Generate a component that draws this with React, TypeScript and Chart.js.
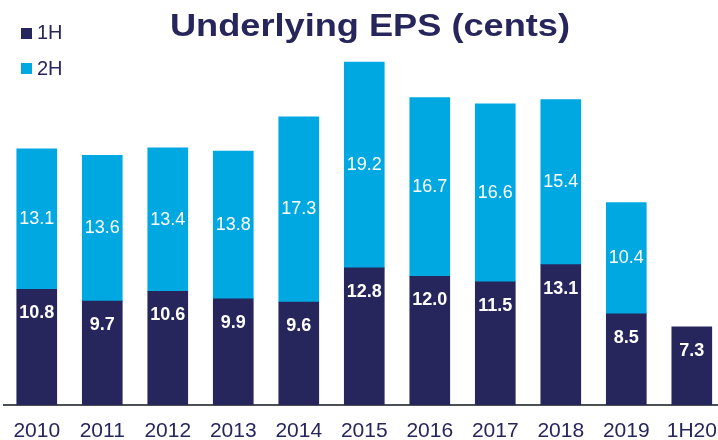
import React, { useEffect, useRef } from "react";
import { Chart, registerables } from "chart.js";

Chart.register(...registerables);

const categories = ["2010", "2011", "2012", "2013", "2014", "2015", "2016", "2017", "2018", "2019", "1H20"];
const firstHalf = [10.8, 9.7, 10.6, 9.9, 9.6, 12.8, 12.0, 11.5, 13.1, 8.5, 7.3];
const secondHalf: (number | null)[] = [13.1, 13.6, 13.4, 13.8, 17.3, 19.2, 16.7, 16.6, 15.4, 10.4, null];
const seriesNames = ["1H", "2H"];
const chartTitle = "Underlying EPS (cents)";

const NAVY = "#27265c";
const BLUE = "#00a8e1";
const FONT = "'Liberation Sans', Arial, sans-serif";

const overlayPlugin = {
  id: "overlay",
  afterDatasetsDraw(chart: any) {
    const ctx = chart.ctx;
    ctx.save();
    ctx.fillStyle = "#ffffff";
    ctx.textAlign = "center";
    ctx.textBaseline = "middle";
    chart.data.datasets.forEach((ds: any, di: number) => {
      const meta = chart.getDatasetMeta(di);
      meta.data.forEach((el: any, i: number) => {
        const v = ds.data[i]?.y;
        if (v == null) return;
        const top = Math.min(el.y, el.base);
        const bottom = Math.max(el.y, el.base);
        let y: number;
        if (di === 0) {
          ctx.font = `bold 18px ${FONT}`;
          y = top + 24;
        } else {
          ctx.font = `18px ${FONT}`;
          y = (top + bottom) / 2;
        }
        ctx.fillText(v.toFixed(1), el.x, y);
      });
    });
    ctx.restore();
  },
  afterDraw(chart: any) {
    const ctx = chart.ctx;
    ctx.save();
    // title, stretched to the reference's width
    ctx.fillStyle = NAVY;
    ctx.font = `bold 32px ${FONT}`;
    ctx.textAlign = "center";
    ctx.textBaseline = "alphabetic";
    const w = ctx.measureText(chartTitle).width;
    const sx = 400 / w;
    ctx.save();
    ctx.translate(370, 36);
    ctx.scale(sx, 1);
    ctx.fillText(chartTitle, 0, 0);
    ctx.restore();
    // legend
    const colors = [NAVY, BLUE];
    const squareTops = [28, 63];
    const baselines = [39, 75];
    ctx.textAlign = "left";
    ctx.font = `20px ${FONT}`;
    seriesNames.forEach((name, i) => {
      ctx.fillStyle = colors[i];
      ctx.fillRect(21, squareTops[i], 11, 11);
      ctx.fillStyle = NAVY;
      ctx.fillText(name, 37, baselines[i]);
    });
    ctx.restore();
  },
};

export default function App() {
  const ref = useRef<HTMLCanvasElement | null>(null);

  useEffect(() => {
    document.body.style.margin = "0";
    if (!ref.current) return;
    const chart = new Chart(ref.current, {
      type: "bar",
      data: {
        datasets: [
          {
            label: seriesNames[0],
            data: firstHalf.map((v, i) => ({ x: i, y: v })),
            backgroundColor: NAVY,
            barThickness: 40,
            borderWidth: 0,
          },
          {
            label: seriesNames[1],
            data: secondHalf.map((v, i) => ({ x: i, y: v as number })),
            backgroundColor: BLUE,
            barThickness: 40,
            borderWidth: 0,
          },
        ],
      },
      options: {
        animation: false,
        responsive: false,
        maintainAspectRatio: false,
        layout: { padding: { left: 4, right: 0, top: 30, bottom: 0 } },
        plugins: {
          legend: { display: false },
          title: { display: false },
          tooltip: { enabled: false },
        },
        scales: {
          x: {
            type: "linear",
            stacked: true,
            offset: false,
            min: -0.5,
            max: 10.4,
            grid: { display: false, drawTicks: false, offset: false },
            border: { display: true, color: "#4a5055", width: 2 },
            ticks: {
              stepSize: 1,
              includeBounds: false,
              autoSkip: false,
              maxRotation: 0,
              padding: 14,
              color: NAVY,
              font: { family: FONT, size: 21 },
              callback: (value: any) => categories[value as number] ?? "",
            },
            afterFit: (scale: any) => {
              scale.height = 35;
              scale.paddingLeft = 0;
              scale.paddingRight = 0;
            },
          },
          y: {
            stacked: true,
            display: false,
            min: 0,
            max: 35,
          },
        },
      },
      plugins: [overlayPlugin],
    } as any);
    return () => chart.destroy();
  }, []);

  return <canvas ref={ref} width={718} height={440} style={{ display: "block" }} />;
}
